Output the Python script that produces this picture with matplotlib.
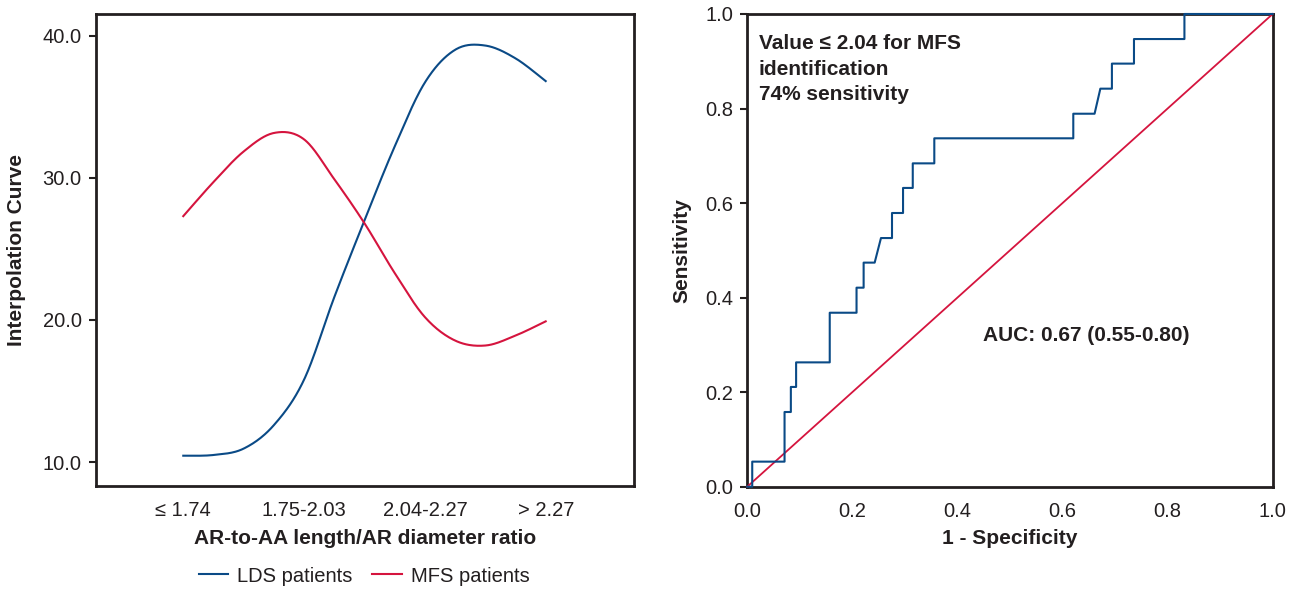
#!/usr/bin/env python3
"""
Interpolation curves by AR-to-AA length/AR diameter ratio (left)
and ROC curve for MFS identification (right).
"""

import numpy as np
import matplotlib
matplotlib.use('Agg')
import matplotlib.pyplot as plt

plt.rcParams['font.family'] = ['Liberation Sans', 'DejaVu Sans']

TEXT = '#231f20'
BLUE = '#0a4a86'
RED = '#d5143e'

# --- left panel data (readings along the smoothed curves) ---
categories = ['\u2264 1.74', '1.75-2.03', '2.04-2.27', '> 2.27']
curve_x = [0, 0.25, 0.5, 0.75, 1.0, 1.25, 1.5, 1.75, 2.0, 2.25, 2.5, 2.75, 3.0]
lds_curve = [10.45, 10.5, 10.95, 12.6, 15.8, 21.6, 27.0, 32.2, 36.7, 39.0, 39.3, 38.4, 36.8]
mfs_curve = [27.3, 29.7, 31.85, 33.15, 32.7, 29.9, 26.8, 23.3, 20.2, 18.55, 18.2, 18.9, 19.9]

# --- right panel data (ROC vertices) ---
roc_fpr = [0.0, 0.0095, 0.0095, 0.071, 0.071, 0.083, 0.083, 0.093, 0.093,
           0.157, 0.157, 0.208, 0.208, 0.2215, 0.2215, 0.2425, 0.2545,
           0.2755, 0.2755, 0.2965, 0.2965, 0.315, 0.315, 0.356, 0.356,
           0.6205, 0.6205, 0.661, 0.672, 0.694, 0.694, 0.736, 0.736,
           0.832, 0.832, 1.0]
roc_tpr = [0.0, 0.0, 0.053, 0.053, 0.158, 0.158, 0.211, 0.211, 0.263,
           0.263, 0.368, 0.368, 0.421, 0.421, 0.474, 0.474, 0.526,
           0.526, 0.579, 0.579, 0.632, 0.632, 0.684, 0.684, 0.737,
           0.737, 0.789, 0.789, 0.842, 0.842, 0.895, 0.895, 0.947,
           0.947, 1.0, 1.0]
chance = [0.0, 1.0]


def catmull_rom(xs, ys, n=30):
    """Smooth curve through the given points (uniform Catmull-Rom)."""
    p = np.column_stack([xs, ys]).astype(float)
    p = np.vstack([p[0], p, p[-1]])
    t = np.linspace(0, 1, n, endpoint=False)[:, None]
    out = []
    for i in range(1, len(p) - 2):
        p0, p1, p2, p3 = p[i - 1], p[i], p[i + 1], p[i + 2]
        seg = 0.5 * (2 * p1 + (-p0 + p2) * t
                     + (2 * p0 - 5 * p1 + 4 * p2 - p3) * t ** 2
                     + (-p0 + 3 * p1 - 3 * p2 + p3) * t ** 3)
        out.append(seg)
    out.append(p[-2][None, :])
    out = np.vstack(out)
    return out[:, 0], out[:, 1]


def style_axes(ax):
    for sp in ax.spines.values():
        sp.set_linewidth(2.0)
        sp.set_color(TEXT)
    ax.tick_params(axis='y', direction='out', length=5, width=1.5,
                   color=TEXT, labelcolor=TEXT, labelsize=14.5, pad=5)
    ax.tick_params(axis='x', length=0, labelcolor=TEXT, labelsize=14.5, pad=11)


fig = plt.figure(figsize=(13, 5.9), dpi=100)

# left panel
ax1 = fig.add_axes([0.0736, 0.1763, 0.414, 0.7995])
lx, ly = catmull_rom(curve_x, lds_curve)
ax1.plot(lx, ly, color=BLUE, lw=1.5, label='LDS patients')
mx, my = catmull_rom(curve_x, mfs_curve)
ax1.plot(mx, my, color=RED, lw=1.5, label='MFS patients')
ax1.set_xlim(-0.725, 3.73)
ax1.set_ylim(8.32, 41.5)
ax1.set_xticks(range(len(categories)))
ax1.set_xticklabels(categories)
ax1.set_yticks([10, 20, 30, 40])
ax1.set_yticklabels(['10.0', '20.0', '30.0', '40.0'])
style_axes(ax1)
ax1.set_xlabel('AR-to-AA length/AR diameter ratio', fontsize=15,
               fontweight='bold', color=TEXT, labelpad=6)
ax1.set_ylabel('Interpolation Curve', fontsize=15, fontweight='bold',
               color=TEXT, labelpad=12)

fig.legend(loc='center', bbox_to_anchor=(364 / 1300, 1 - 576 / 590), ncol=2,
           frameon=False, fontsize=14.5, handlelength=1.45,
           handletextpad=0.45, columnspacing=1.0, labelcolor=TEXT)

# right panel
ax2 = fig.add_axes([0.5748, 0.1751, 0.4042, 0.8012])
ax2.plot(chance, chance, color=RED, lw=1.3, zorder=3, clip_on=False)
ax2.plot(roc_fpr, roc_tpr, color=BLUE, lw=1.5, zorder=4, clip_on=False)
ax2.set_xlim(0, 1)
ax2.set_ylim(0, 1)
ax2.set_xticks([0, 0.2, 0.4, 0.6, 0.8, 1.0])
ax2.set_yticks([0, 0.2, 0.4, 0.6, 0.8, 1.0])
ax2.xaxis.set_major_formatter('{x:.1f}')
ax2.yaxis.set_major_formatter('{x:.1f}')
style_axes(ax2)
ax2.set_xlabel('1 - Specificity', fontsize=15, fontweight='bold',
               color=TEXT, labelpad=6)
ax2.set_ylabel('Sensitivity', fontsize=15, fontweight='bold',
               color=TEXT, labelpad=10)

ax2.text(0.022, 0.958, 'Value \u2264 2.04 for MFS\nidentification\n74% sensitivity',
         transform=ax2.transAxes, ha='left', va='top', fontsize=15,
         fontweight='bold', color=TEXT, linespacing=1.45)
ax2.text(0.448, 0.319, 'AUC: 0.67 (0.55-0.80)', transform=ax2.transAxes,
         ha='left', va='center', fontsize=15, fontweight='bold', color=TEXT)

fig.savefig('out.png', dpi=100)
